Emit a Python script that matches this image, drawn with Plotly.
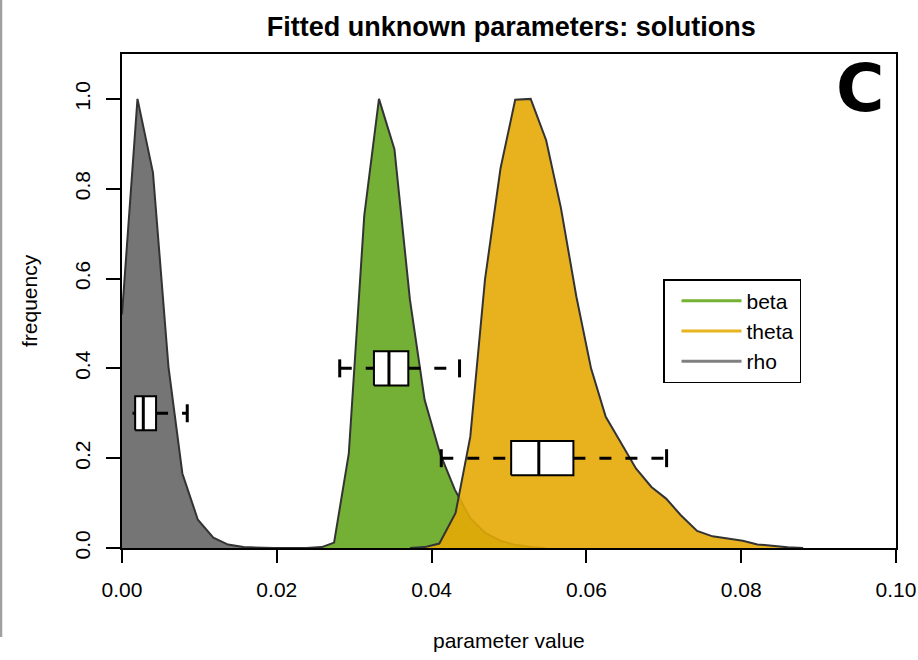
import plotly.graph_objects as go

# ---- density curves ----
rho_x = [0.0000, 0.0020, 0.0040, 0.0060, 0.0078, 0.0098, 0.0118, 0.0137, 0.0157, 0.0176, 0.0196, 0.0260]
rho_y = [0.52, 1.00, 0.836, 0.404, 0.166, 0.063, 0.023, 0.0076, 0.002, 0.0005, 0.0, 0.0]

beta_x = [0.0238, 0.0258, 0.0274, 0.0293, 0.0313, 0.0332, 0.0352, 0.0372, 0.0391, 0.0411,
          0.0430, 0.0450, 0.0469, 0.0489, 0.0508, 0.0528, 0.0547]
beta_y = [0.0, 0.002, 0.012, 0.21, 0.74, 1.00, 0.888, 0.553, 0.33, 0.21,
          0.13, 0.066, 0.034, 0.016, 0.007, 0.002, 0.0]

theta_x = [0.0372, 0.0391, 0.0410, 0.0431, 0.0450, 0.0469, 0.0489, 0.0508, 0.0528, 0.0548,
           0.0567, 0.0587, 0.0606, 0.0625, 0.0645, 0.0664, 0.0684, 0.0703, 0.0722, 0.0743,
           0.0763, 0.0782, 0.0802, 0.0821, 0.0840, 0.0860, 0.0880]
theta_y = [0.0, 0.002, 0.010, 0.078, 0.248, 0.598, 0.845, 0.998, 1.00, 0.908,
           0.758, 0.560, 0.400, 0.292, 0.233, 0.177, 0.136, 0.110, 0.073, 0.038,
           0.026, 0.021, 0.016, 0.008, 0.0045, 0.0015, 0.0]

# ---- boxplot stats: [whisker low, q1, median, q3, whisker high], drawn at level ----
series_names = ["beta", "theta", "rho"]
box_beta = [0.02813, 0.03255, 0.03449, 0.03699, 0.04361]
box_theta = [0.04125, 0.05028, 0.05385, 0.05832, 0.07036]
box_rho = [-0.0020, 0.00170, 0.00275, 0.00440, 0.00843]
box_levels = {"beta": 0.4, "theta": 0.2, "rho": 0.3}

x_ticks = [0.00, 0.02, 0.04, 0.06, 0.08, 0.10]
y_ticks = [0.0, 0.2, 0.4, 0.6, 0.8, 1.0]

fill_cols = {"rho": "rgba(117,117,117,1)", "beta": "rgba(116,175,54,1)", "theta": "rgba(230,170,7,0.9)"}
leg_cols = {"beta": "#74B232", "theta": "#E8B41E", "rho": "#808080"}
outline = "#333333"
FONT = "Liberation Sans, Arial, sans-serif"

fig = go.Figure()

curves = {"rho": (rho_x, rho_y), "beta": (beta_x, beta_y), "theta": (theta_x, theta_y)}
for name in ["rho", "beta", "theta"]:
    xs, ys = curves[name]
    fig.add_trace(go.Scatter(x=xs, y=ys, mode="lines", fill="tozeroy",
                             fillcolor=fill_cols[name],
                             line=dict(color=outline, width=2),
                             showlegend=False, hoverinfo="skip"))

HH = 0.038   # half box height
CAP = 0.02   # half cap height
boxes = {"beta": box_beta, "theta": box_theta, "rho": box_rho}
for name in ["rho", "beta", "theta"]:
    lo, q1, med, q3, hi = boxes[name]
    yv = box_levels[name]
    fig.add_trace(go.Scatter(x=[lo, q1, None, q3, hi], y=[yv, yv, None, yv, yv], mode="lines",
                             line=dict(color="black", width=3, dash="12px,14px"),
                             showlegend=False, hoverinfo="skip"))
    fig.add_trace(go.Scatter(x=[lo, lo, None, hi, hi], y=[yv - CAP, yv + CAP, None, yv - CAP, yv + CAP],
                             mode="lines", line=dict(color="black", width=3),
                             showlegend=False, hoverinfo="skip"))
    fig.add_trace(go.Scatter(x=[q1, q3, q3, q1, q1], y=[yv - HH, yv - HH, yv + HH, yv + HH, yv - HH],
                             mode="lines", fill="toself", fillcolor="white",
                             line=dict(color="black", width=2),
                             showlegend=False, hoverinfo="skip"))
    fig.add_trace(go.Scatter(x=[med, med], y=[yv - HH, yv + HH], mode="lines",
                             line=dict(color="black", width=3),
                             showlegend=False, hoverinfo="skip"))

# legend entries
for name in series_names:
    fig.add_trace(go.Scatter(x=[None], y=[None], mode="lines", name=name,
                             line=dict(color=leg_cols[name], width=3)))

fig.update_layout(
    width=918, height=660,
    margin=dict(l=122, r=22, t=54, b=112, autoexpand=False),
    paper_bgcolor="white", plot_bgcolor="white",
    font=dict(family=FONT, size=21, color="black"),
    title=dict(text="<b>Fitted unknown parameters: solutions</b>", xref="paper", x=0.503,
               xanchor="center", y=1 - 27 / 660, yanchor="middle",
               font=dict(family=FONT, size=27, color="black")),
    showlegend=True,
    legend=dict(x=(663 - 122) / 774, y=(548 - 279) / 494, xanchor="left", yanchor="top",
                bordercolor="black", borderwidth=1.5, bgcolor="white",
                font=dict(family=FONT, size=21), itemwidth=60, indentation=12,
                tracegroupgap=0),
)

fig.update_xaxes(range=[0, 0.1], tickvals=x_ticks, tickformat=".2f", automargin=False,
                 showline=True, linecolor="black", linewidth=2, mirror=True,
                 ticks="outside", ticklen=13, tickwidth=1.5, tickcolor="black",
                 showgrid=False, zeroline=False, ticklabelstandoff=9,
                 tickfont=dict(family=FONT, size=21))
fig.update_yaxes(range=[0, 1.1], tickvals=y_ticks, tickformat=".1f", automargin=False,
                 showline=True, linecolor="black", linewidth=2, mirror=True,
                 ticks="outside", ticklen=14, tickwidth=1.5, tickcolor="black",
                 showgrid=False, zeroline=False, tickangle=-90, ticklabelstandoff=8,
                 tickfont=dict(family=FONT, size=21))

fig.add_annotation(text="parameter value", xref="paper", yref="paper",
                   x=0.5, y=-(640 - 548) / 494, xanchor="center", yanchor="middle",
                   showarrow=False, font=dict(family=FONT, size=21))
fig.add_annotation(text="frequency", xref="paper", yref="paper",
                   x=-(122 - 29) / 774, y=0.5, xanchor="center", yanchor="middle",
                   textangle=-90, showarrow=False, font=dict(family=FONT, size=21))
fig.add_annotation(text="<b>C</b>", xref="paper", yref="paper",
                   x=(860 - 122) / 774, y=(548 - 88.5) / 494, xanchor="center", yanchor="middle",
                   showarrow=False, font=dict(family="DejaVu Sans", size=66, color="black"))

# thin gray frame line at the image's left edge
fig.add_shape(type="line", xref="paper", yref="paper",
              x0=-(122 - 1) / 774, x1=-(122 - 1) / 774, y0=548 / 494, y1=(548 - 637) / 494,
              line=dict(color="#a0a0a0", width=2.5))

fig.write_html("out.html", config={"displayModeBar": False},
               post_script="document.body.style.margin='0';document.body.style.overflow='hidden';")
